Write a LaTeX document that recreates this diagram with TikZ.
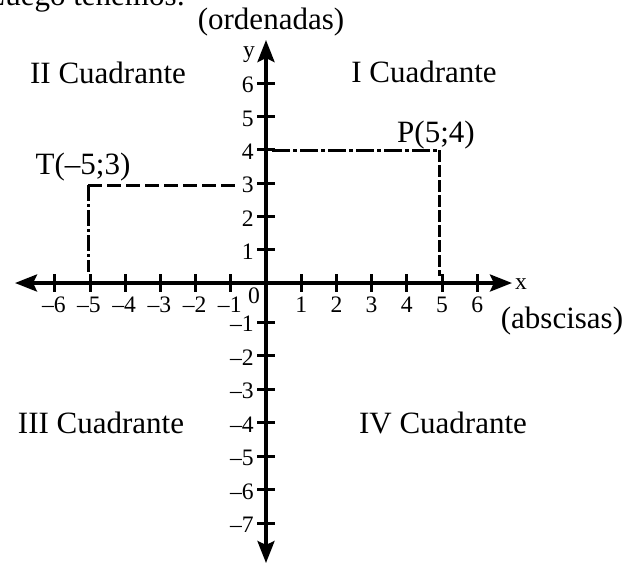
\documentclass[tikz,border=0pt]{standalone}
\usepackage{fontspec}
\setmainfont{Liberation Serif}
\usetikzlibrary{arrows.meta}
\tikzset{
  axisline/.style={line width=1.8pt, -{Stealth[length=11pt,width=8.5pt,inset=2pt]}},
  tickmark/.style={line width=1.5pt},
  bigtext/.style={font=\fontsize{15.5}{17}\selectfont, inner sep=0pt},
  smalltext/.style={font=\fontsize{11.8}{13}\selectfont, inner sep=0pt},
  dashTh/.style={line width=1.5pt, dash pattern=on 7pt off 2.5pt},
  dashTv/.style={line width=1.5pt, dash pattern=on 8pt off 1.5pt on 1.5pt off 1.5pt},
  dashPh/.style={line width=1.5pt, dash pattern=on 9pt off 1.5pt on 2pt off 1.5pt},
  dashPv/.style={line width=1.5pt, dash pattern=on 6pt off 1.5pt},
}
\begin{document}
\begin{tikzpicture}[x=0.5pt,y=-0.5pt]
\useasboundingbox (0,0) rectangle (639,564);
\begin{scope}
  \clip (0,0) rectangle (639,564);
  \node[bigtext, anchor=base west] (intro) at (-14,5) {Luego tenemos:};
\end{scope}

% axes
\coordinate (O) at (266,283);
\coordinate (xl) at (15,283);
\coordinate (xr) at (512,283);
\coordinate (yt) at (266,40);
\coordinate (yb) at (266,563);
\draw[axisline] (O) -- (xr);
\draw[axisline] (O) -- (xl);
\draw[axisline] (O) -- (yt);
\draw[axisline] (O) -- (yb);

% x ticks and labels
\foreach \k in {1,...,6}{
  \draw[tickmark] (266+35.2*\k,274) -- (266+35.2*\k,292);
  \draw[tickmark] (266-35.2*\k,274) -- (266-35.2*\k,292);
  \node[smalltext] (xp\k) at (266+35.2*\k,305) {\k};
  \node[smalltext] (xn\k) at (265-35.2*\k,305) {\textendash\k};
}
% y ticks and labels (positive)
\foreach \k in {1,...,6}{
  \draw[tickmark] (257,283-33.3*\k) -- (275,283-33.3*\k);
  \node[smalltext, anchor=east] (yp\k) at (254,285-33.3*\k) {\k};
}
% y ticks and labels (negative)
\foreach \k in {1,...,7}{
  \draw[tickmark] (257,322+33.5*\k-33.5) -- (275,322+33.5*\k-33.5);
  \node[smalltext, anchor=east] (yn\k) at (254,324+33.5*\k-33.5) {\textendash\k};
}
\node[smalltext] (zero) at (254,296) {0};
\node[smalltext, anchor=base] (ylab) at (249,57) {y};
\node[smalltext, anchor=base] (xlab) at (521,289) {x};

\node[bigtext] (ord) at (271,22) {(ordenadas)};
\node[bigtext] (absc) at (562,321) {(abscisas)};

% quadrant labels
\node[bigtext, anchor=base] (q2) at (108,83) {II Cuadrante};
\node[bigtext, anchor=base] (q1) at (424,82) {I Cuadrante};
\node[bigtext, anchor=base] (q3) at (101,433) {III Cuadrante};
\node[bigtext, anchor=base] (q4) at (443,433) {IV Cuadrante};

% points
\coordinate (T) at (88,185);
\coordinate (Tb) at (88,272);
\coordinate (Th) at (239,185);
\coordinate (P) at (439,150);
\coordinate (Pb) at (439,276);
\coordinate (Ph) at (272,150);
\draw[dashTh] (T) -- (Th);
\draw[dashTv] (T) -- (Tb);
\draw[dashPh] (Ph) -- (P);
\draw[dashPv] (P) -- (Pb);
\node[bigtext, anchor=base] (Tlab) at (83,174) {T(\textendash5;3)};
\node[bigtext, anchor=base] (Plab) at (436,142) {P(5;4)};
\end{tikzpicture}
\end{document}
